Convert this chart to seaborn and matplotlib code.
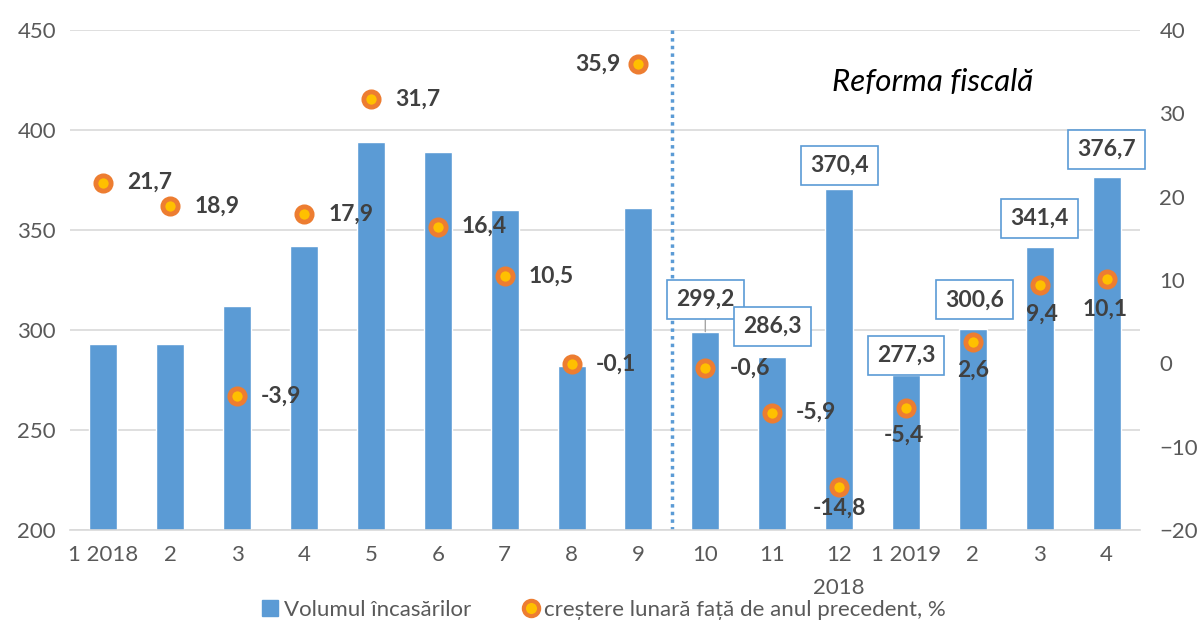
import matplotlib
matplotlib.use("Agg")
import matplotlib.pyplot as plt
import seaborn as sns
import numpy as np
import pandas as pd
from matplotlib.lines import Line2D

# ---- data ----
tick_labels = ["1 2018", "2", "3", "4", "5", "6", "7", "8", "9", "10", "11", "12",
               "1 2019", "2", "3", "4"]
volume = [293.0, 293.0, 312.0, 342.0, 394.0, 389.0, 360.0, 282.0, 361.0,
          299.2, 286.3, 370.4, 277.3, 300.6, 341.4, 376.7]
growth = [21.7, 18.9, -3.9, 17.9, 31.7, 16.4, 10.5, -0.1, 35.9,
          -0.6, -5.9, -14.8, -5.4, 2.6, 9.4, 10.1]
boxed_from = 9  # bar values labelled in boxes from October 2018 on
bar_name = "Volumul încasărilor"
point_name = "creștere lunară față de anul precedent, %"
annotation = "Reforma fiscală"

# label placement for growth points: (dx px, dy px, ha)
pt_offsets = [(24, 0, "left")] * 8 + [(-18, 0, "right")] + [(24, 0, "left")] * 2 + \
             [(0, -22, "center"), (-2, -27, "center"), (0, -29, "center"),
              (2, -29, "center"), (-2, -30, "center")]
box_offsets = [(0, 32), (0, 31), (0, 24), (0, 20), (2, 29), (0, 29), (0, 27)]

BLUE = "#5B9BD5"
ORANGE = "#ED7D31"
YELLOW = "#FFC000"
DARK = "#404040"
GRAY = "#595959"
FS = 16
LFS = 16.5

sns.set_theme(style="white")
plt.rcParams["font.family"] = ["Lato", "DejaVu Sans"]

fig = plt.figure(figsize=(11.98, 6.26), dpi=100)
ax = fig.add_axes([70 / 1198, 1 - 530 / 626, 1070 / 1198, 500 / 626])

pos = list(range(len(volume)))
df = pd.DataFrame({"pos": pos, "volume": volume, "growth": growth})

sns.barplot(data=df, x="pos", y="volume", color=BLUE, saturation=1, width=0.42, ax=ax)
ax.set_ylim(200, 450)
ax.set_xlim(-0.5, len(volume) - 0.5)
ax.set_yticks(np.arange(200, 451, 50))
ax.yaxis.grid(True, color="#D9D9D9", linewidth=1.2)
ax.set_axisbelow(True)
for s in ["top", "right", "left"]:
    ax.spines[s].set_visible(False)
ax.spines["bottom"].set_color("#D9D9D9")
ax.spines["bottom"].set_linewidth(1.2)
ax.set_xticks(pos)
ax.set_xticklabels(tick_labels)
ax.tick_params(axis="both", length=0, labelsize=FS, labelcolor=GRAY, pad=11)
ax.tick_params(axis="y", pad=10)
ax.set_xlabel("")
ax.set_ylabel("")
ax.text(11, -0.117, "2018", transform=ax.get_xaxis_transform(), ha="center", va="center",
        fontsize=FS, color=GRAY)

# dotted separator
ax.axvline(boxed_from - 0.5, color=BLUE, linestyle=(0, (1, 1.2)), linewidth=2.5)

# boxed bar labels
for j, i in enumerate(range(boxed_from, len(volume))):
    dx, dy = box_offsets[j]
    kw = {}
    if j == 0:
        kw["arrowprops"] = dict(arrowstyle="-", color="#A6A6A6", lw=1, shrinkA=0, shrinkB=0)
    ax.annotate(f"{volume[i]:.1f}".replace(".", ","), xy=(i, volume[i]),
                xytext=(dx, dy), textcoords="offset pixels", ha="center", va="center",
                fontsize=LFS, fontweight="bold", color=DARK,
                bbox=dict(boxstyle="square,pad=0.4", fc="white", ec=BLUE, lw=1.2), **kw)

# secondary axis
ax2 = ax.twinx()
sns.scatterplot(data=df, x="pos", y="growth", ax=ax2, s=120, color=YELLOW,
                edgecolor=ORANGE, linewidth=3.5, zorder=5, legend=False)
ax2.set_ylim(-20, 40)
ax2.set_yticks(np.arange(-20, 41, 10))
for s in ["top", "right", "left", "bottom"]:
    ax2.spines[s].set_visible(False)
ax2.tick_params(axis="y", length=0, labelsize=FS, labelcolor=GRAY, pad=14)
ax2.set_ylabel("")
ax2.set_xlabel("")
ax2.grid(False)

for i, g in enumerate(growth):
    dx, dy, ha = pt_offsets[i]
    ax2.annotate(f"{g:.1f}".replace(".", ","), xy=(i, g), xytext=(dx, dy),
                 textcoords="offset pixels", ha=ha, va="center",
                 fontsize=LFS, fontweight="bold", color=DARK, zorder=6)

ax2.text(12.4, 33.7, annotation, ha="center", va="center", fontsize=22.5,
         style="italic", color="black")

handles = [Line2D([], [], marker="s", linestyle="none", markersize=11,
                  markerfacecolor=BLUE, markeredgecolor=BLUE, label=bar_name),
           Line2D([], [], marker="o", linestyle="none", markersize=11,
                  markerfacecolor=YELLOW, markeredgecolor=ORANGE, markeredgewidth=3,
                  label=point_name)]
fig.legend(handles=handles, loc="center", bbox_to_anchor=(0.503, 1 - 610 / 626), ncol=2,
           frameon=False, fontsize=FS, handletextpad=0.1, columnspacing=2.2,
           labelcolor=GRAY, handlelength=1.0)

fig.savefig("out.png", dpi=100)
